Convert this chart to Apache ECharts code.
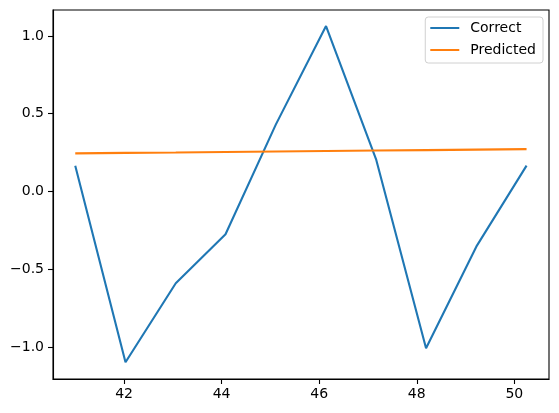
<!DOCTYPE html>
<html>
<head>
<meta charset="utf-8">
<script src="https://cdn.jsdelivr.net/npm/echarts@6/dist/echarts.min.js"></script>
<style>
html,body{margin:0;padding:0;background:#fff;}
#chart{width:559px;height:413px;}
</style>
</head>
<body>
<div id="chart"></div>
<script>
const xValues = [41.0, 42.03, 43.06, 44.08, 45.11, 46.14, 47.17, 48.19, 49.22, 50.25];
const correct = [0.166, -1.098, -0.59, -0.275, 0.43, 1.064, 0.203, -1.008, -0.355, 0.166];
const predicted = [0.245, 0.248, 0.251, 0.254, 0.257, 0.260, 0.263, 0.266, 0.269, 0.272];
const xTicks = [42, 44, 46, 48, 50];
const yTicks = [-1.0, -0.5, 0.0, 0.5, 1.0];

const font = 'DejaVu Sans';
const chart = echarts.init(document.getElementById('chart'), null, {renderer: 'canvas'});
const fmtY = v => {
  const s = Math.abs(v).toFixed(1);
  return v < 0 ? '\u2212' + s : s;
};
chart.setOption({
  animation: false,
  backgroundColor: '#fff',
  grid: {left: 53, top: 10, right: 10, bottom: 34, show: true, borderColor: '#000', borderWidth: 1.1, containLabel: false},
  xAxis: {
    type: 'value', min: 40.544, max: 50.71,
    splitLine: {show: false},
    axisLine: {show: true, onZero: false, lineStyle: {color: '#000', width: 1.1}},
    axisTick: {show: true, length: 5, lineStyle: {color: '#000', width: 1.1}, customValues: xTicks},
    axisLabel: {color: '#000', fontFamily: font, fontSize: 14, margin: 8, customValues: xTicks, formatter: v => String(v)}
  },
  yAxis: {
    type: 'value', min: -1.206, max: 1.167,
    splitLine: {show: false},
    axisLine: {show: true, onZero: false, lineStyle: {color: '#000', width: 1.1}},
    axisTick: {show: true, length: 5, lineStyle: {color: '#000', width: 1.1}, customValues: yTicks},
    axisLabel: {color: '#000', fontFamily: font, fontSize: 14, margin: 9, customValues: yTicks, formatter: fmtY}
  },
  legend: {
    orient: 'vertical', right: 16, top: 17,
    icon: 'rect', itemWidth: 29, itemHeight: 2, itemGap: 8,
    padding: [4, 7, 6, 5],
    borderColor: '#d0d0d0', borderWidth: 1, borderRadius: 3,
    backgroundColor: 'rgba(255,255,255,0.8)',
    textStyle: {fontFamily: font, fontSize: 14, color: '#000', padding: [0, 0, 0, 6]},
    data: ['Correct', 'Predicted']
  },
  series: [
    {name: 'Correct', type: 'line', showSymbol: false, symbol: 'none', color: '#1f77b4',
     lineStyle: {width: 2.1, color: '#1f77b4'},
     data: xValues.map((x, i) => [x, correct[i]])},
    {name: 'Predicted', type: 'line', showSymbol: false, symbol: 'none', color: '#ff7f0e',
     lineStyle: {width: 2.1, color: '#ff7f0e'},
     data: xValues.map((x, i) => [x, predicted[i]])}
  ]
});
</script>
</body>
</html>
